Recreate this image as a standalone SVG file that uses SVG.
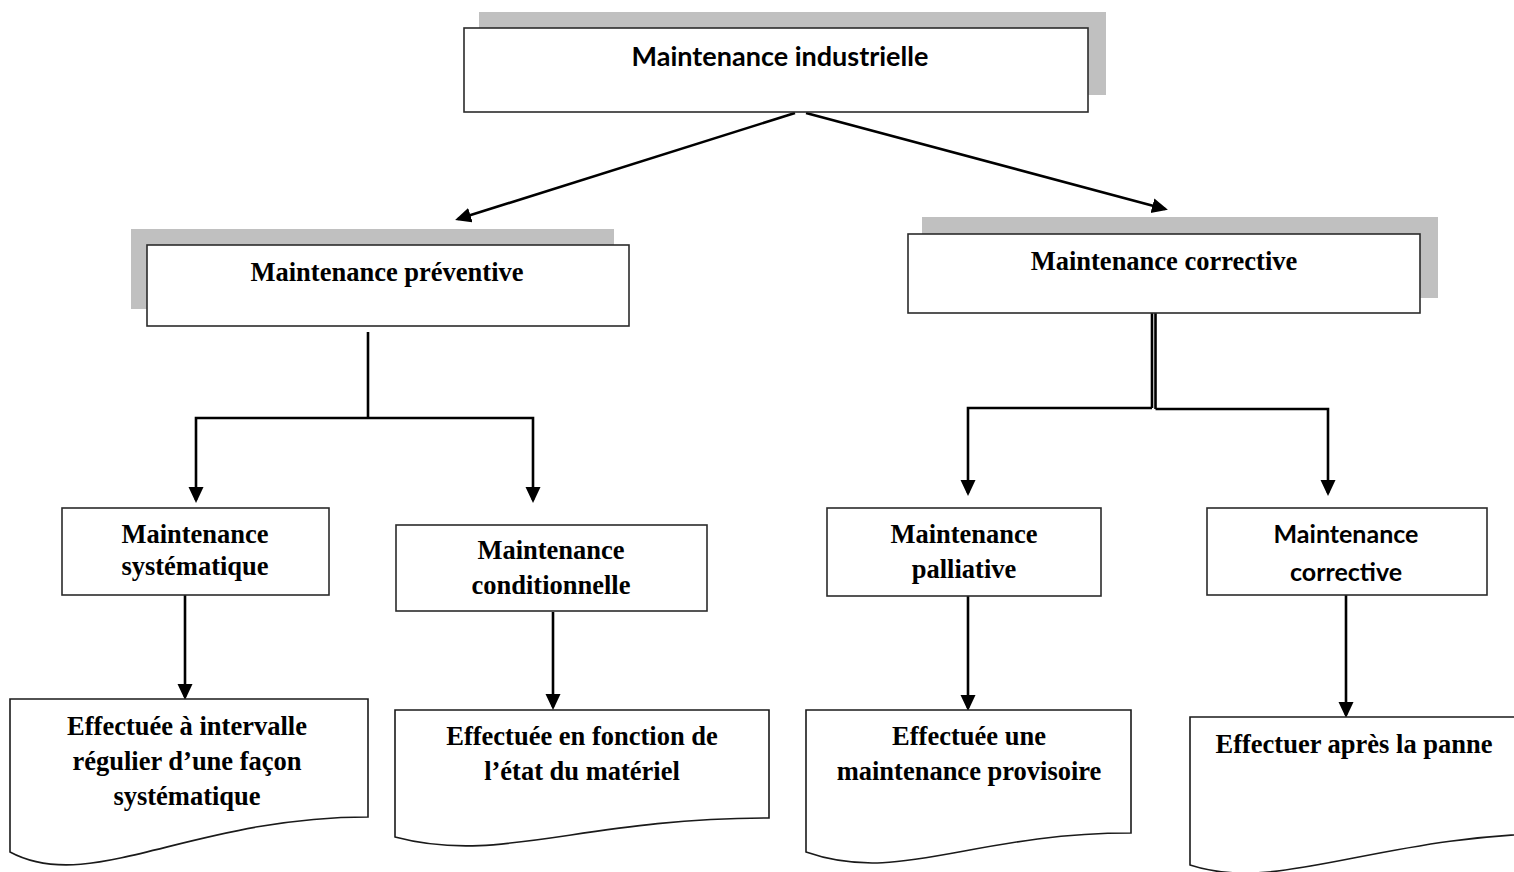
<svg xmlns="http://www.w3.org/2000/svg" width="1514" height="872" viewBox="0 0 1514 872">
  <style>
    .shadow { fill: #c0c0c0; }
    .box { fill: #ffffff; stroke: #2b2b2b; stroke-width: 1.6; }
    .doc { fill: #ffffff; stroke: #1a1a1a; stroke-width: 1.6; }
    .serif { font-family: "Liberation Serif", "Times New Roman", serif; font-weight: bold; font-size: 26.5px; fill: #000; text-anchor: middle; }
    .sans { font-family: Lato, "Open Sans", sans-serif; font-weight: bold; font-size: 25px; fill: #000; text-anchor: middle; }
    .title { font-size: 27px; }
    .link { fill: none; stroke: #000; stroke-width: 2.6; }
    .arrow { marker-end: url(#head); }
  </style>
  <defs>
    <marker id="head" markerUnits="userSpaceOnUse" markerWidth="18" markerHeight="16" refX="13" refY="7.5" orient="auto">
      <path d="M0,0 L16,7.5 L0,15 Z" fill="#000"/>
    </marker>
  </defs>

  <rect width="1514" height="872" fill="#ffffff"/>

  <!-- connectors -->
  <g id="connectors">
    <line class="link arrow" x1="795" y1="113" x2="458" y2="219"/>
    <line class="link arrow" x1="806" y1="113" x2="1165" y2="209"/>

    <!-- preventive branch -->
    <polyline class="link" points="368,332 368,418"/>
    <polyline class="link arrow" points="368,418 196,418 196,500"/>
    <polyline class="link arrow" points="368,418 533,418 533,500"/>

    <!-- corrective branch (double stem) -->
    <line class="link" x1="1152" y1="313" x2="1152" y2="408"/>
    <line class="link" x1="1155.5" y1="313" x2="1155.5" y2="409"/>
    <polyline class="link arrow" points="1152,408 968,408 968,493"/>
    <polyline class="link arrow" points="1155.5,409 1328,409 1328,493"/>

    <!-- box to description -->
    <line class="link arrow" x1="185" y1="595" x2="185" y2="697"/>
    <line class="link arrow" x1="553" y1="612" x2="553" y2="707"/>
    <line class="link arrow" x1="968" y1="596" x2="968" y2="708"/>
    <line class="link arrow" x1="1346" y1="595" x2="1346" y2="715"/>
  </g>

  <!-- top node -->
  <g id="node-industrielle">
    <rect class="shadow" x="479" y="12" width="627" height="83"/>
    <rect class="box" x="464" y="28" width="624" height="84"/>
    <text class="sans title" x="780" y="66">Maintenance industrielle</text>
  </g>

  <g id="node-preventive">
    <rect class="shadow" x="131" y="229" width="483" height="80"/>
    <rect class="box" x="147" y="245" width="482" height="81"/>
    <text class="serif" x="387" y="281">Maintenance préventive</text>
  </g>

  <g id="node-corrective">
    <rect class="shadow" x="922" y="217" width="516" height="81"/>
    <rect class="box" x="908" y="234" width="512" height="79"/>
    <text class="serif" x="1164" y="270">Maintenance corrective</text>
  </g>

  <g id="node-systematique">
    <rect class="box" x="62" y="508" width="267" height="87"/>
    <text class="serif" x="195" y="543">Maintenance</text>
    <text class="serif" x="195" y="575">systématique</text>
  </g>

  <g id="node-conditionnelle">
    <rect class="box" x="396" y="525" width="311" height="86"/>
    <text class="serif" x="551" y="559">Maintenance</text>
    <text class="serif" x="551" y="594">conditionnelle</text>
  </g>

  <g id="node-palliative">
    <rect class="box" x="827" y="508" width="274" height="88"/>
    <text class="serif" x="964" y="543">Maintenance</text>
    <text class="serif" x="964" y="578">palliative</text>
  </g>

  <g id="node-corrective-2">
    <rect class="box" x="1207" y="508" width="280" height="87"/>
    <text class="sans" x="1346" y="543">Maintenance</text>
    <text class="sans" x="1346" y="581">corrective</text>
  </g>

  <!-- description documents -->
  <g id="doc-systematique">
    <path class="doc" d="M10,699 H368 V817 C190,817 90,895 10,852 Z"/>
    <text class="serif" x="187" y="735">Effectuée à intervalle</text>
    <text class="serif" x="187" y="770">régulier d’une façon</text>
    <text class="serif" x="187" y="805">systématique</text>
  </g>

  <g id="doc-conditionnelle">
    <path class="doc" d="M395,710 H769 V818 C580,818 500,865 395,837 Z"/>
    <text class="serif" x="582" y="745">Effectuée en fonction de</text>
    <text class="serif" x="582" y="780">l’état du matériel</text>
  </g>

  <g id="doc-palliative">
    <path class="doc" d="M806,710 H1131 V833 C970,833 900,885 806,852 Z"/>
    <text class="serif" x="969" y="745">Effectuée une</text>
    <text class="serif" x="969" y="780">maintenance provisoire</text>
  </g>

  <g id="doc-corrective">
    <path class="doc" d="M1190,717 H1570 V833 C1380,833 1280,895 1190,865 Z"/>
    <text class="serif" x="1354" y="753">Effectuer après la panne</text>
  </g>
</svg>
